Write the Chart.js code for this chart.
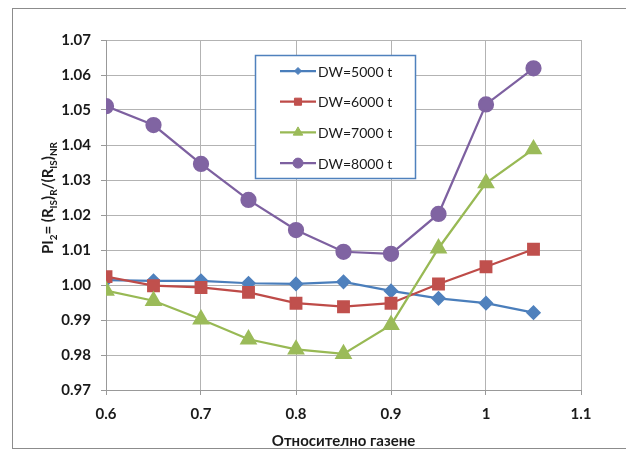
<!DOCTYPE html>
<html>
<head>
<meta charset="utf-8">
<script src="https://cdn.jsdelivr.net/npm/chart.js@4"></script>
<style>
  html, body { margin: 0; padding: 0; background: #fff; }
  #wrap { width: 626px; height: 450px; position: relative; }
</style>
</head>
<body>
<div id="wrap"><canvas id="chart"></canvas></div>
<script>
// data
const xValues = [0.6, 0.65, 0.7, 0.75, 0.8, 0.85, 0.9, 0.95, 1.0, 1.05];
const dw5000 = [1.0014, 1.0012, 1.0012, 1.0005, 1.0003, 1.0009, 0.9983, 0.9962, 0.9948, 0.9921];
const dw6000 = [1.0024, 0.9998, 0.9993, 0.9979, 0.9948, 0.9938, 0.9948, 1.0003, 1.0052, 1.0102];
const dw7000 = [0.9984, 0.9955, 0.9902, 0.9845, 0.9816, 0.9803, 0.9886, 1.0105, 1.0291, 1.0388];
const dw8000 = [1.0511, 1.0457, 1.0346, 1.0243, 1.0157, 1.0095, 1.0089, 1.0203, 1.0516, 1.0619];
const seriesLabels = ['DW=5000 t', 'DW=6000 t', 'DW=7000 t', 'DW=8000 t'];
const xTitle = 'Относително газене';

const FONT = "Lato, 'Open Sans', sans-serif";

const toPoints = arr => arr.map((v, i) => ({ x: xValues[i], y: v }));

function makeSet(label, values, line, fill, style, radius, order) {
    return {
        label: label,
        data: toPoints(values),
        borderColor: line,
        backgroundColor: fill,
        pointBackgroundColor: fill,
        pointBorderColor: fill,
        pointStyle: style,
        pointRadius: radius,
        pointHoverRadius: radius,
        borderWidth: 2.25,
        tension: 0,
        order: order
    };
}

// white background + outer frame
const framePlugin = {
    id: 'frame',
    beforeDraw(chart) {
        const ctx = chart.ctx;
        ctx.save();
        ctx.fillStyle = '#fff';
        ctx.fillRect(0, 0, chart.width, chart.height);
        ctx.strokeStyle = '#8c8c8c';
        ctx.lineWidth = 1;
        ctx.strokeRect(12.5, 8.5, 640, 440);
        ctx.restore();
    }
};

// y-axis title with subscripts
const yTitlePlugin = {
    id: 'yTitle',
    afterDraw(chart) {
        const ctx = chart.ctx;
        const parts = [
            ['PI', false], ['2', true], ['= (R', false], ['IS', true], [')', false], ['R', true],
            ['/(R', false], ['IS', true], [')', false], ['NR', true]
        ];
        const big = 'bold 15px ' + FONT, small = 'bold 10px ' + FONT;
        ctx.save();
        let total = 0;
        parts.forEach(p => { ctx.font = p[1] ? small : big; total += ctx.measureText(p[0]).width; });
        ctx.translate(53, 198);
        ctx.rotate(-Math.PI / 2);
        ctx.fillStyle = '#1a1a1a';
        ctx.textBaseline = 'alphabetic';
        let x = -total / 2;
        parts.forEach(p => {
            ctx.font = p[1] ? small : big;
            ctx.fillText(p[0], x, p[1] ? 4 : 0);
            x += ctx.measureText(p[0]).width;
        });
        ctx.restore();
    }
};

// boxed legend inside the plot
const boxLegendPlugin = {
    id: 'boxLegend',
    afterDraw(chart) {
        const ctx = chart.ctx;
        const left = 255.5, top = 55.5, w = 160, h = 123;
        const legendRadius = [3.5, 5, 5.5, 5];
        ctx.save();
        ctx.fillStyle = '#fff';
        ctx.fillRect(left, top, w, h);
        ctx.strokeStyle = '#4f81bd';
        ctx.lineWidth = 1.5;
        ctx.strokeRect(left, top, w, h);
        chart.data.datasets.forEach((ds, i) => {
            const cy = 71 + i * 30.7;
            ctx.strokeStyle = ds.borderColor;
            ctx.lineWidth = 2.25;
            ctx.beginPath();
            ctx.moveTo(280, cy);
            ctx.lineTo(316, cy);
            ctx.stroke();
            ctx.fillStyle = ds.pointBackgroundColor;
            ctx.strokeStyle = ds.pointBorderColor;
            ctx.lineWidth = 1;
            Chart.helpers.drawPoint(ctx, { pointStyle: ds.pointStyle, radius: legendRadius[i], rotation: 0, borderWidth: 1 }, 298, cy);
            ctx.fillStyle = '#1a1a1a';
            ctx.font = '14px ' + FONT;
            ctx.textBaseline = 'middle';
            ctx.fillText(ds.label, 318, cy + 1);
        });
        ctx.restore();
    }
};

new Chart(document.getElementById('chart'), {
    type: 'line',
    data: {
        datasets: [
            makeSet(seriesLabels[0], dw5000, '#4a7ebb', '#4f81bd', 'rectRot', 6, 4),
            makeSet(seriesLabels[1], dw6000, '#be4b48', '#c0504d', 'rect', 7.5, 3),
            makeSet(seriesLabels[2], dw7000, '#98b954', '#9bbb59', 'triangle', 8, 2),
            makeSet(seriesLabels[3], dw8000, '#7d60a0', '#8064a2', 'circle', 7, 1)
        ]
    },
    options: {
        responsive: true, maintainAspectRatio: false, animation: false,
        layout: { padding: { left: 0, right: 45, top: 40, bottom: 0 } },
        plugins: { legend: { display: false }, tooltip: { enabled: false } },
        scales: {
            x: {
                type: 'linear', min: 0.6, max: 1.1,
                ticks: {
                    stepSize: 0.1, padding: 10, color: '#1a1a1a',
                    font: { family: FONT, size: 15, weight: 'bold' },
                    callback: v => String(Math.round(v * 10) / 10)
                },
                grid: { color: '#b3b3b3', tickLength: 5, tickColor: '#999' },
                border: { color: '#999' },
                title: {
                    display: true, text: xTitle, color: '#1a1a1a', padding: { top: 6, bottom: 0 },
                    font: { family: FONT, size: 15, weight: 'bold' }
                },
                afterFit: s => { s.height = 60; }
            },
            y: {
                min: 0.97, max: 1.07,
                ticks: {
                    stepSize: 0.01, padding: 10, color: '#1a1a1a',
                    font: { family: FONT, size: 15, weight: 'bold' },
                    callback: v => v.toFixed(2)
                },
                grid: { color: '#b3b3b3', tickLength: 5, tickColor: '#999' },
                border: { color: '#999' },
                afterFit: s => { s.width = 106; }
            }
        }
    },
    plugins: [framePlugin, yTitlePlugin, boxLegendPlugin]
});
</script>
</body>
</html>
